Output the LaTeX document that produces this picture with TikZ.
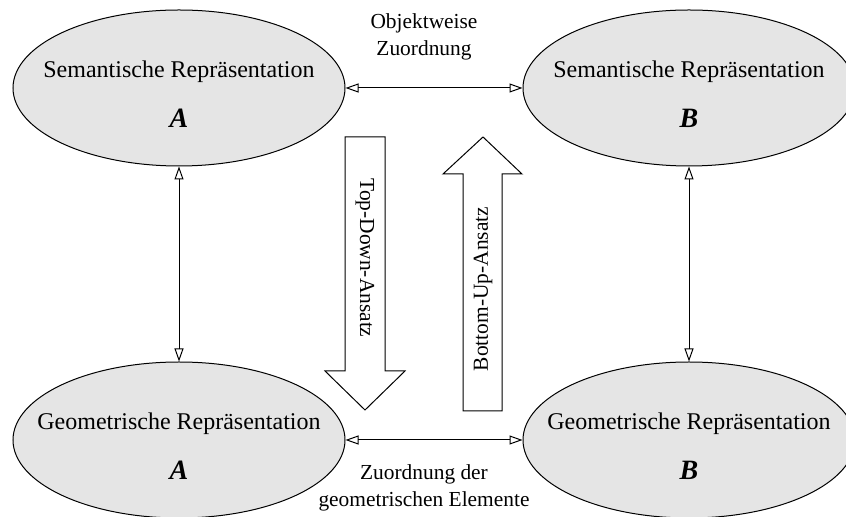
\documentclass[tikz,border=0pt]{standalone}
\usepackage{fontspec}
\setmainfont{Liberation Serif}
\usetikzlibrary{shapes.geometric,arrows.meta}
\newcommand{\repname}[1]{{\fontsize{14}{14.4}\selectfont\textbf{\textit{#1}}}}
\begin{document}
\begin{tikzpicture}[x=0.5pt,y=-0.5pt,
    representation/.style ={ellipse, draw, line width=0.5pt, fill=gray!20,
      minimum width=166pt, minimum height=78pt, inner sep=0pt},
    reptext/.style ={align=center, inner sep=0pt, font=\fontsize{12}{14.4}\selectfont},
    link/.style ={{Triangle[open,length=6.5pt,width=4.5pt]}-{Triangle[open,length=6.5pt,width=4.5pt]}, line width=0.5pt},
    caption/.style ={align=center, inner sep=0pt, font=\fontsize{10.7}{13.5}\selectfont},
    bigarrow/.style ={draw, fill=white, line width=0.5pt}]
   \useasboundingbox (0,0) rectangle (846,517);
   \node[representation] (semA) at (179,88)  {};
   \node[representation] (semB) at (689,88)  {};
   \node[representation] (geoA) at (179,440) {};
   \node[representation] (geoB) at (689,440) {};
   \node[reptext] (semAtext) at (semA) {\rule{0pt}{14.5pt}Semantische Repräsentation\\[10.5pt]\repname{A}};
   \node[reptext] (semBtext) at (semB) {\rule{0pt}{14.5pt}Semantische Repräsentation\\[10.5pt]\repname{B}};
   \node[reptext] (geoAtext) at (geoA) {\rule{0pt}{14.5pt}Geometrische Repräsentation\\[10.5pt]\repname{A}};
   \node[reptext] (geoBtext) at (geoB) {\rule{0pt}{14.5pt}Geometrische Repräsentation\\[10.5pt]\repname{B}};
   \draw[link] (semA) to (semB);
   \draw[link] (geoA) to (geoB);
   \draw[link] (semA) to (geoA);
   \draw[link] (semB) to (geoB);
   \node[caption] (objlbl) at (424,37) {Objektweise\\Zuordnung};
   \node[caption] (geolbl) at (424,488) {Zuordnung der\\geometrischen Elemente};
   % Ansaetze
   \draw[bigarrow] (345,137) -- (385,137) -- (385,371) -- (405,371) -- (365,410) -- (325,371) -- (345,371) -- cycle;
   \draw[bigarrow] (463,411) -- (502,411) -- (502,174) -- (522,174) -- (483,137) -- (443,174) -- (463,174) -- cycle;
   \node[caption, rotate=-90] (topdown) at (365,258) {Top-Down-Ansatz};
   \node[caption, rotate=90] (bottomup) at (483,289) {Bottom-Up-Ansatz};
 \end{tikzpicture}
\end{document}
